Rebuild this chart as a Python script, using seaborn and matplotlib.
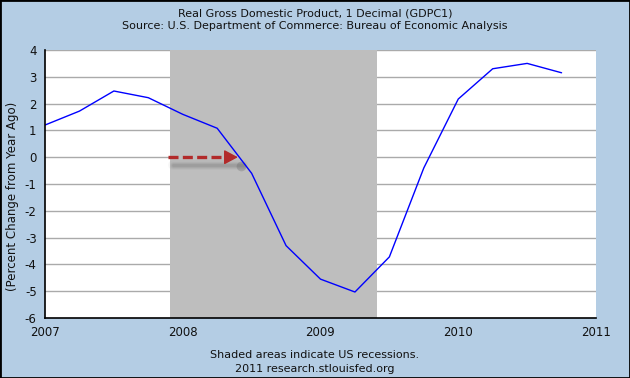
import matplotlib
matplotlib.use("Agg")
import matplotlib.pyplot as plt
import seaborn as sns
import pandas as pd
import numpy as np

# Data: quarterly percent change from year ago, plotted at quarter start
years = [2007.0, 2007.25, 2007.5, 2007.75,
         2008.0, 2008.25, 2008.5, 2008.75,
         2009.0, 2009.25, 2009.5, 2009.75,
         2010.0, 2010.25, 2010.5, 2010.75]
gdp_pct = [1.2, 1.72, 2.47, 2.22,
           1.6, 1.08, -0.6, -3.3,
           -4.55, -5.03, -3.72, -0.4,
           2.17, 3.3, 3.5, 3.15]
recession = (2007.91, 2009.41)
arrow_from = (2007.89, 0.0)
arrow_to = (2008.40, 0.0)
x_ticks = [2007, 2008, 2009, 2010, 2011]
y_ticks = [4, 3, 2, 1, 0, -1, -2, -3, -4, -5, -6]

title1 = "Real Gross Domestic Product, 1 Decimal (GDPC1)"
title2 = "Source: U.S. Department of Commerce: Bureau of Economic Analysis"
foot1 = "Shaded areas indicate US recessions."
foot2 = "2011 research.stlouisfed.org"
ylabel = "(Percent Change from Year Ago)"

sns.set_theme(style="white")
plt.rcParams['font.family'] = ['DejaVu Sans']
plt.rcParams['axes.unicode_minus'] = False

bg = "#b4cde4"
fig = plt.figure(figsize=(6.3, 3.78), dpi=100, facecolor=bg)
ax = fig.add_axes([45/630, 1-318/378, (596-45)/630, (318-50)/378])
ax.set_facecolor("white")

df = pd.DataFrame({"year": years, "pct": gdp_pct})

for yv in y_ticks:
    if yv != -6:
        ax.axhline(yv, color="#aaaaaa", lw=1.0, zorder=0.5)
ax.axvspan(recession[0], recession[1], color="#bebebe", lw=0, zorder=1)

sns.lineplot(data=df, x="year", y="pct", ax=ax, color="#0000ff", lw=1.0, zorder=3)

# soft arrow shadow
sx0, sx1, sy = arrow_from[0] + 0.04, arrow_to[0] + 0.04, arrow_from[1] - 0.28
for w, a in [(7, 0.06), (5, 0.08), (3.5, 0.12), (2, 0.15)]:
    ax.plot([sx0, sx1], [sy, sy], color="#666666", lw=w, alpha=a,
            solid_capstyle="round", zorder=2)
ax.plot([sx1 - 0.02], [sy - 0.05], marker="o", ms=7, color="#555555", alpha=0.25,
        mec="none", zorder=2)

# dashed shaft + solid head
head_len = 0.06
ax.plot([arrow_from[0], arrow_to[0] - head_len], [arrow_from[1], arrow_to[1]],
        color="#b22a2a", lw=2.4, dashes=(3.0, 1.3), dash_capstyle="butt", zorder=4)
ax.annotate("", xy=arrow_to, xytext=(arrow_to[0] - head_len - 0.01, arrow_to[1]),
            arrowprops=dict(arrowstyle="-|>,head_length=0.6,head_width=0.32",
                            color="#b22a2a", lw=1.0, shrinkA=0, shrinkB=0,
                            mutation_scale=14), zorder=4)

ax.set_xlim(2007, 2011)
ax.set_ylim(-6, 4)
ax.set_xticks(x_ticks)
ax.set_xticklabels([str(t) for t in x_ticks])
ax.set_yticks(y_ticks)
ax.set_xlabel("")
ax.set_ylabel("")
ax.tick_params(axis="y", direction="out", length=4, width=1, labelsize=8.5, pad=2)
ax.tick_params(axis="x", direction="in", length=5, width=1, labelsize=8.5, pad=6)
ax.tick_params(axis="both", colors="black", labelcolor="#111111")

for s in ["top", "right"]:
    ax.spines[s].set_visible(False)
for s in ["left", "bottom"]:
    ax.spines[s].set_color("black")
    ax.spines[s].set_linewidth(1.2)
    ax.spines[s].set_zorder(5)

fig.text(13/630, 1-196/378, ylabel, rotation=90, ha="center", va="center",
         fontsize=8.5, color="#111111")
fig.text(0.5, 1-14/378, title1, ha="center", va="center", fontsize=8, color="#111111")
fig.text(0.5, 1-26/378, title2, ha="center", va="center", fontsize=8, color="#111111")
fig.text(0.5, 1-355/378, foot1, ha="center", va="center", fontsize=8, color="#111111")
fig.text(0.5, 1-369/378, foot2, ha="center", va="center", fontsize=8, color="#111111")

# outer border
fig.patches.append(plt.Rectangle((0, 0), 1, 1, transform=fig.transFigure, fill=False,
                                 edgecolor="#000000", lw=2, zorder=10))

fig.savefig("out.png", dpi=100, facecolor=bg)
